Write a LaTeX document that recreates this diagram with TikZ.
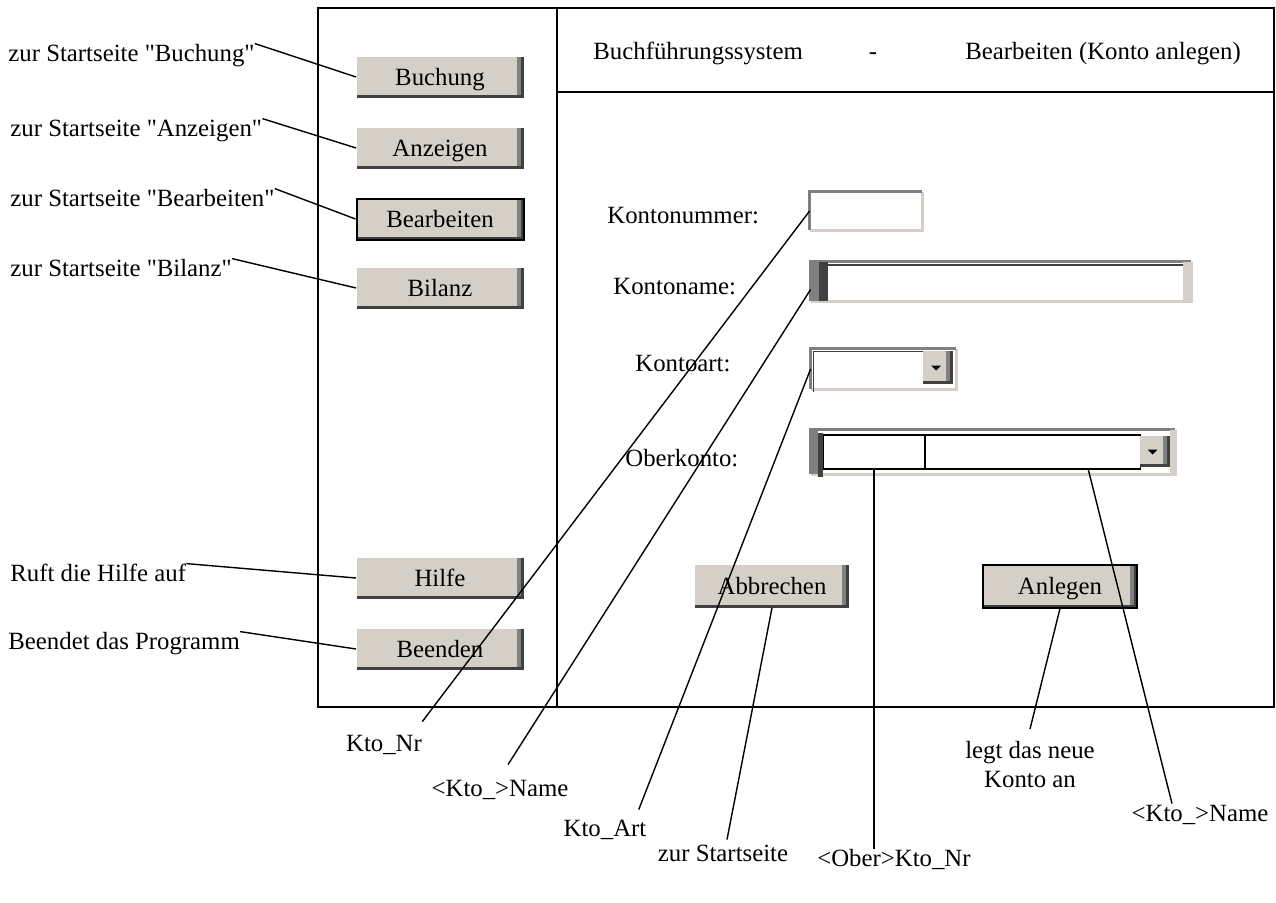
\documentclass[tikz,border=0pt]{standalone}
\usepackage{fontspec}
\setmainfont{Liberation Serif}
\usetikzlibrary{positioning,calc}
\definecolor{btnface}{RGB}{212,208,200}
\definecolor{btngray}{RGB}{128,128,128}
\definecolor{btndark}{RGB}{64,64,64}
\newcommand{\qq}{\textquotedbl}
\tikzset{
  btn/.style={fill=btndark, minimum width=83.5pt, minimum height=20.5pt, inner sep=0pt,
    text height=8.5pt, text depth=0pt,
    path picture={
      \fill[btngray] (path picture bounding box.north west) rectangle ([shift={(-1.5pt,1.5pt)}]path picture bounding box.south east);
      \fill[btnface] (path picture bounding box.north west) rectangle ([shift={(-3.5pt,1.5pt)}]path picture bounding box.south east);}},
  btnfocus/.style={btn, draw=black, line width=1pt},
  arrowbtn/.style={btn, minimum width=15pt, minimum height=16.5pt},
  lbl/.style={inner sep=0pt, text height=8.5pt, text depth=2.5pt},
  field/.style={fill=white, inner sep=0pt},
  cell/.style={draw=black, line width=0.6pt, fill=white, inner sep=0pt, minimum height=17pt},
  con/.style={line width=0.7pt},
  frame/.style={line width=0.8pt}
}
% sunken border of an input field
\newcommand{\sunken}[1]{%
  \draw[btnface, line width=1.5pt] (#1.south west) -| (#1.north east);
  \draw[btngray, line width=1.5pt] (#1.south west) |- (#1.north east);}
\begin{document}
\begin{tikzpicture}[x=0.5pt,y=-0.5pt,font=\fontsize{12.4}{14.5}\selectfont]
\useasboundingbox (0,0) rectangle (1276,902);
% window frame
\draw[frame] (318,8) rectangle (557,707);
\draw[frame] (557,8) rectangle (1274,707);
\draw[frame] (557,92) -- (1274,92);
\draw[line width=1.2pt] (318,707) -- (1274,707);
% title line
\node[lbl,anchor=west] (hSys) at (593,53) {Buchführungssystem};
\node[lbl] (hDash) at (873,53) {-};
\node[lbl,anchor=west] (hMode) at (965,53) {Bearbeiten (Konto anlegen)};
% menu buttons
\foreach \nm/\txt/\yy in {bBuch/Buchung/77, bAnz/Anzeigen/148, bBil/Bilanz/288, bHilfe/Hilfe/578, bEnde/Beenden/649}
  \node[btn] (\nm) at (440,\yy) {\txt};
\node[btnfocus] (bBearb) at (440,219) {Bearbeiten};
% comments on the menu
\foreach \nm/\txt/\xx/\yy/\bt in {lBuch/{zur Startseite \qq Buchung\qq}/8/55/bBuch,
    lAnz/{zur Startseite \qq Anzeigen\qq}/10/130/bAnz,
    lBearb/{zur Startseite \qq Bearbeiten\qq}/10/200/bBearb,
    lBil/{zur Startseite \qq Bilanz\qq}/10/270/bBil,
    lHilfe/{Ruft die Hilfe auf}/10/575/bHilfe,
    lEnde/{Beendet das Programm}/8/643/bEnde}
{
  \node[lbl,anchor=west] (\nm) at (\xx,\yy) {\txt};
  \draw[con] (\nm.north east) -- (\bt.west);
}
% form
\node[lbl,anchor=west] (tNr) at (607,217) {Kontonummer:};
\node[lbl,anchor=west] (tName) at (613,288) {Kontoname:};
\node[lbl,anchor=west] (tArt) at (635,365) {Kontoart:};
\node[lbl,anchor=west] (tOber) at (625,460) {Oberkonto:};
\node[field, minimum width=56pt, minimum height=19pt] (fNr) at (866,211) {};
\sunken{fNr}
\node[field, minimum width=190pt, minimum height=19.5pt] (fName) at (1001,281.5) {};
\sunken{fName}
\fill[btngray] (fName.south west) rectangle ([xshift=4pt]fName.north west);
\fill[btndark] ([xshift=4pt]fName.south west) rectangle ([xshift=8.5pt]fName.north west);
\draw[btndark, line width=1pt] ([shift={(4pt,-1.5pt)}]fName.north west) -- ([shift={(-4pt,-1.5pt)}]fName.north east);
\fill[btnface] ([xshift=-4pt]fName.south east) rectangle (fName.north east);
\node[field, minimum width=72.5pt, minimum height=20pt] (fArt) at (883.5,369) {};
\sunken{fArt}
\draw[btndark, line width=0.8pt] ([shift={(1.5pt,-1.5pt)}]fArt.south west) |- ([shift={(-1.5pt,-1.5pt)}]fArt.north east);
\node[arrowbtn] (aArt) at (938,367.5) {};
\fill ([xshift=-0.9pt]aArt.center) ++(-5,-2) -- ++(10,0) -- ++(-5,5) -- cycle;
\node[field, minimum width=182pt, minimum height=22pt] (fOber) at (993,452) {};
\sunken{fOber}
\fill[btngray] (fOber.south west) rectangle ([xshift=3.5pt]fOber.north west);
\fill[btndark] ([shift={(3.5pt,-1.5pt)}]fOber.south west) rectangle ([shift={(6pt,-1.5pt)}]fOber.north west);
\fill[btnface] ([xshift=-2.5pt]fOber.south east) rectangle (fOber.north east);
\node[cell, minimum width=50.5pt, anchor=west] (cNr) at (823,452) {};
\node[cell, minimum width=107.5pt, anchor=west] (cName) at (cNr.east) {};
\node[arrowbtn, minimum height=15.5pt] (aOber) at (1154.5,451.5) {};
\fill ([xshift=-0.9pt]aOber.center) ++(-5,-2) -- ++(10,0) -- ++(-5,5) -- cycle;
% action buttons
\node[btn, minimum width=77pt, minimum height=21.5pt] (bAbbr) at (772,586) {Abbrechen};
\node[btnfocus, minimum width=77pt, minimum height=21.5pt] (bAnl) at (1060,586) {Anlegen};
% field names below the window
\node[lbl] (kNr) at (384,745) {Kto\_Nr};
\node[lbl] (kName) at (500,790) {<Kto\_>Name};
\node[lbl] (kArt) at (605,830) {Kto\_Art};
\node[lbl] (kStart) at (723,855) {zur Startseite};
\node[lbl] (kOber) at (894,860) {<Ober>Kto\_Nr};
\node[inner sep=0pt, align=center, anchor=north] (kAnl) at (1030,741) {legt das neue\\Konto an};
\node[lbl] (kName2) at (1200,815) {<Kto\_>Name};
\draw[con] (fNr.west) -- ([shift={(0pt,6pt)}]kNr.north east);
\draw[con] ([yshift=-4pt]fName.west) -- ([shift={(4pt,7pt)}]kName.north);
\draw[con] (fArt.west) -- ([shift={(-4pt,4.5pt)}]kArt.north east);
\draw[con] (bAbbr.south) -- ([shift={(2pt,2pt)}]kStart.north);
\draw[con] (cNr.south) -- (cNr.south |- kOber.north);
\draw[con] ([xshift=27.5pt]cName.south) -- ([xshift=-14pt]kName2.north);
\draw[con] (bAnl.south) -- ([yshift=6pt]kAnl.north);
\end{tikzpicture}
\end{document}
